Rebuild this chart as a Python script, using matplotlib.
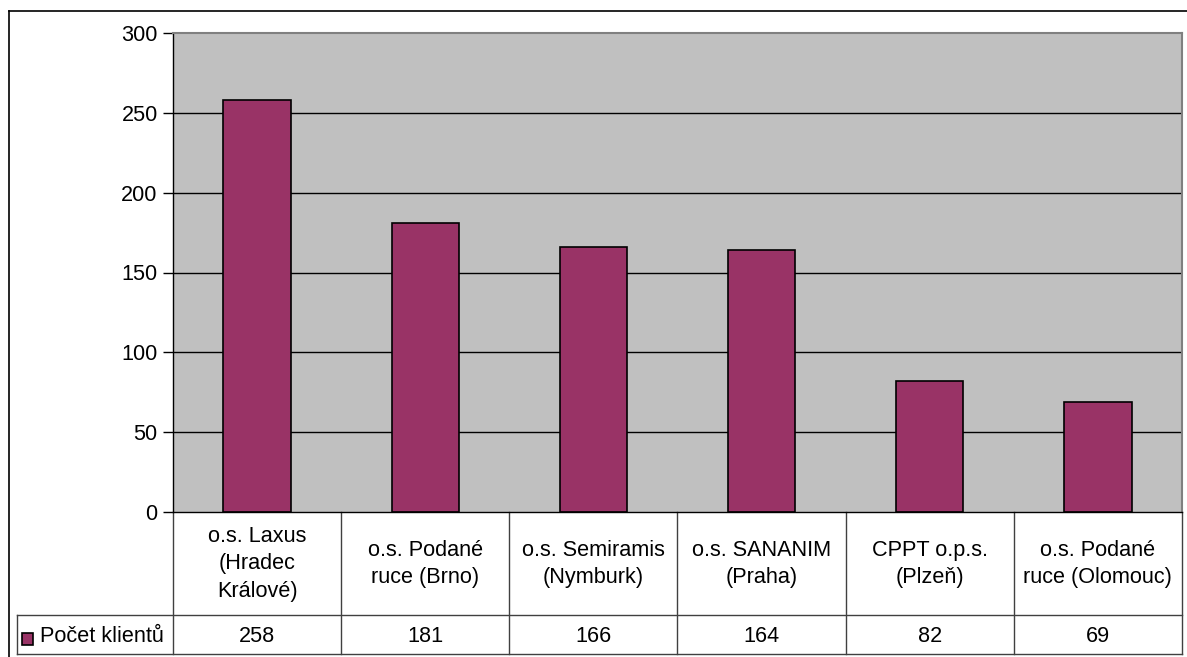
import matplotlib
matplotlib.use("Agg")
import matplotlib.pyplot as plt
from matplotlib.transforms import blended_transform_factory
from matplotlib.patches import Rectangle
from matplotlib.lines import Line2D

categories = ["o.s. Laxus\n(Hradec\nKrálové)", "o.s. Podané\nruce (Brno)", "o.s. Semiramis\n(Nymburk)",
              "o.s. SANANIM\n(Praha)", "CPPT o.p.s.\n(Plzeň)", "o.s. Podané\nruce (Olomouc)"]
values = [258, 181, 166, 164, 82, 69]
series_name = "Počet klientů"
yticks = [0, 50, 100, 150, 200, 250, 300]

plt.rcParams['font.family'] = ['Liberation Sans', 'DejaVu Sans']
FS = 15.6

W, H = 1187, 657
fig = plt.figure(figsize=(W / 100, H / 100), dpi=100)
fig.patch.set_facecolor("white")

def fx(px):
    return px / W

def fy(py):
    return 1 - py / H

left, right, top, bottom = 173, 1182, 33, 512
ax = fig.add_axes([fx(left), fy(bottom), fx(right) - fx(left), fy(top) - fy(bottom)])
ax.set_facecolor("#C0C0C0")
ax.set_xlim(-0.5, len(values) - 0.5)
ax.set_ylim(0, 300)

for t in yticks[1:-1]:
    ax.axhline(t, color="black", lw=1, zorder=1)

x = list(range(len(values)))
ax.bar(x, values, width=0.4, color="#993366", edgecolor="black", linewidth=1.2, zorder=2)

ax.set_yticks(yticks)
ax.set_yticklabels([str(t) for t in yticks], fontsize=FS)
ax.tick_params(axis="y", direction="out", length=7, width=1, color="black", pad=4)
ax.set_xticks([])
for s in ["top", "right"]:
    ax.spines[s].set_color("#808080")
    ax.spines[s].set_linewidth(1.5)
ax.spines["left"].set_color("black")
ax.spines["bottom"].set_color("black")
ax.spines["left"].set_linewidth(1)
ax.spines["bottom"].set_linewidth(1)

# Data table below the plot
tr = blended_transform_factory(ax.transData, fig.transFigure)
row1_top, row_sep, row2_bot = 512, 615, 654
line_kw = dict(color="#404040", lw=1, clip_on=False)

bounds = [i - 0.5 for i in range(len(values) + 1)]
for b in bounds:
    ax.add_line(Line2D([b, b], [fy(row1_top), fy(row2_bot)], transform=tr, **line_kw))
ax.add_line(Line2D([fx(17), fx(right)], [fy(row_sep), fy(row_sep)], transform=fig.transFigure, **line_kw))
ax.add_line(Line2D([fx(17), fx(right)], [fy(row2_bot), fy(row2_bot)], transform=fig.transFigure, **line_kw))
ax.add_line(Line2D([fx(17), fx(17)], [fy(row_sep), fy(row2_bot)], transform=fig.transFigure, **line_kw))

for i, (c, v) in enumerate(zip(categories, values)):
    ax.text(i, fy(564), c, transform=tr, ha="center", va="center", fontsize=FS,
            linespacing=1.38, color="black")
    ax.text(i, fy(636), str(v), transform=tr, ha="center", va="center", fontsize=FS, color="black")

# legend key in table
fig.patches.append(Rectangle((fx(22), fy(645)), fx(33) - fx(22), fy(633) - fy(645),
                             transform=fig.transFigure, facecolor="#993366", edgecolor="black", lw=1.2))
fig.text(fx(40), fy(637), series_name, ha="left", va="center", fontsize=FS)

# outer chart border (cut off at right/bottom)
fig.add_artist(Line2D([fx(9), fx(9)], [fy(11), fy(H + 5)], transform=fig.transFigure, color="black", lw=1.2))
fig.add_artist(Line2D([fx(9), fx(W + 5)], [fy(11), fy(11)], transform=fig.transFigure, color="black", lw=1.2))

fig.savefig("out.png", dpi=100)
